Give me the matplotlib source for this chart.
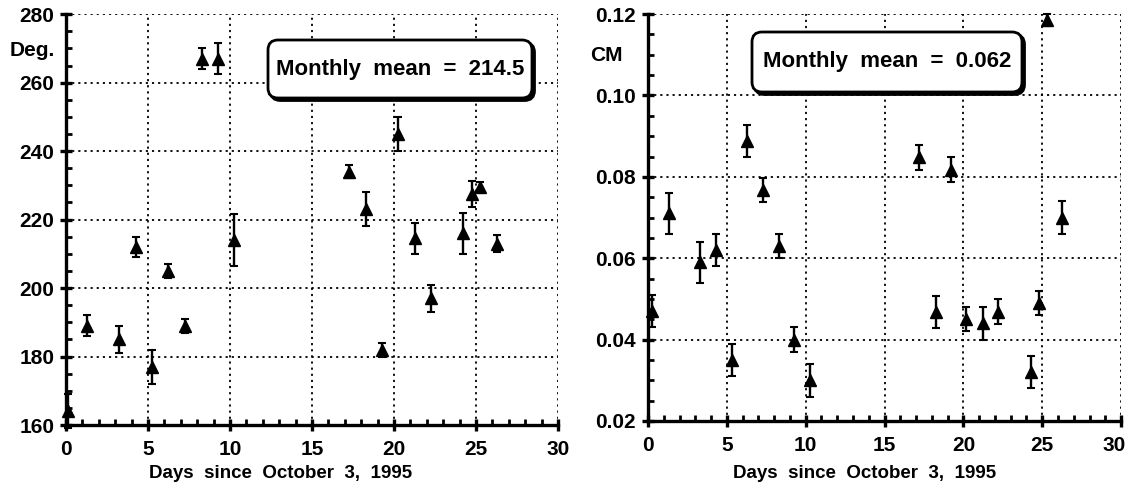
import matplotlib
matplotlib.use("Agg")
import matplotlib.pyplot as plt
from matplotlib.ticker import MultipleLocator, FuncFormatter
from matplotlib.patches import FancyBboxPatch

plt.rcParams["font.family"] = ["Liberation Sans", "DejaVu Sans"]
plt.rcParams["font.weight"] = "bold"

# direction data (degrees)
dir_days = [0.15, 1.26, 3.25, 4.27, 5.22, 6.24, 7.26, 8.27, 9.25, 10.24,
            17.28, 18.27, 19.29, 20.27, 21.28, 22.26, 24.23, 24.77, 25.24, 26.26]
dir_vals = [164, 189, 185, 212, 177, 205, 189, 267, 267, 214,
            234, 223, 182, 245, 214.5, 197, 216, 227.5, 229.5, 213]
dir_err = [5, 3, 4, 3, 5, 2, 2, 3, 4.5, 7.5,
           2, 5, 2, 5, 4.5, 4, 6, 3.7, 1.5, 2.5]

# magnitude data (cm)
mag_days = [0.28, 1.33, 3.32, 4.30, 5.32, 6.27, 7.28, 8.30, 9.25, 10.28,
            17.19, 18.25, 19.24, 20.19, 21.25, 22.22, 24.29, 24.80, 25.29, 26.23]
mag_vals = [0.047, 0.071, 0.059, 0.062, 0.035, 0.0888, 0.0768, 0.063, 0.040, 0.030,
            0.0848, 0.0468, 0.0818, 0.0450, 0.0440, 0.0469, 0.0320, 0.0490, 0.1185, 0.0700]
mag_err = [0.004, 0.005, 0.005, 0.004, 0.004, 0.004, 0.003, 0.003, 0.003, 0.004,
           0.003, 0.004, 0.003, 0.003, 0.004, 0.003, 0.004, 0.003, 0.0015, 0.004]

xlabel = "Days  since  October  3,  1995"
TS = 15

fig = plt.figure(figsize=(11.3, 4.95), dpi=100)
ax1 = fig.add_axes([0.0584, 0.1414, 0.4354, 0.830])
ax2 = fig.add_axes([0.5735, 0.1495, 0.4186, 0.822])


def style(ax, ylim, ymajor, yminor, fmt):
    ax.set_xlim(0, 30)
    ax.set_ylim(*ylim)
    ax.xaxis.set_major_locator(MultipleLocator(5))
    ax.xaxis.set_minor_locator(MultipleLocator(1))
    ax.yaxis.set_major_locator(MultipleLocator(ymajor))
    ax.yaxis.set_minor_locator(MultipleLocator(yminor))
    ax.yaxis.set_major_formatter(fmt)
    ax.grid(True, which="major", color="black", linestyle=(0, (1.2, 2.2)), linewidth=1.3)
    ax.set_axisbelow(True)
    for s in ["top", "right"]:
        ax.spines[s].set_visible(False)
    for s in ["left", "bottom"]:
        ax.spines[s].set_linewidth(2.4)
    ax.tick_params(which="major", direction="inout", length=9, width=2.4,
                   labelsize=TS, pad=4)
    ax.tick_params(axis="x", which="major", pad=6)
    ax.tick_params(which="minor", direction="in", length=4, width=2)


style(ax1, (160, 280), 20, 5, "{x:.0f}")
style(ax2, (0.02, 0.12), 0.02, 0.005, "{x:.2f}")

# right panel: last x label is drawn separately so it stays inside the figure
ax2.xaxis.set_major_formatter(FuncFormatter(lambda v, p: "" if v >= 30 else f"{v:.0f}"))
ax2.annotate("30", xy=(1, 0), xycoords="axes fraction", xytext=(-5, -10.5),
             textcoords="offset points", ha="center", va="top", fontsize=TS,
             fontweight="bold", annotation_clip=False)

for ax, d, v, e in [(ax1, dir_days, dir_vals, dir_err), (ax2, mag_days, mag_vals, mag_err)]:
    ax.errorbar(d, v, yerr=e, fmt="^", color="black", markersize=9,
                elinewidth=1.7, capsize=3, capthick=1.5, zorder=3, clip_on=False)

ax1.set_xlabel(xlabel, fontsize=13.5, fontweight="bold")
ax1.xaxis.set_label_coords(0.437, -0.098)
ax2.set_xlabel(xlabel, fontsize=13.5, fontweight="bold")
ax2.xaxis.set_label_coords(0.457, -0.108)

ax1.text(-0.022, 0.912, "Deg.", transform=ax1.transAxes, ha="right", va="center",
         fontsize=TS, fontweight="bold")
ax2.text(-0.053, 0.899, "CM", transform=ax2.transAxes, ha="right", va="center",
         fontsize=TS, fontweight="bold")

# annotation boxes, placed in inches on the figure
for (x0, y0, w, h) in [(2.68, 3.97, 2.64, 0.58), (7.52, 4.03, 2.70, 0.60)]:
    shadow = FancyBboxPatch((x0 + 0.025, y0 - 0.025), w, h, boxstyle="round,pad=0,rounding_size=0.1",
                            transform=fig.dpi_scale_trans, facecolor="black", edgecolor="black",
                            linewidth=2, zorder=4)
    fig.patches.append(shadow)
    patch = FancyBboxPatch((x0, y0), w, h, boxstyle="round,pad=0,rounding_size=0.1",
                           transform=fig.dpi_scale_trans, facecolor="white", edgecolor="black",
                           linewidth=2, zorder=5)
    fig.patches.append(patch)

fig.text(4.00 / 11.3, 1 - 0.69 / 4.95, "Monthly  mean  =  214.5", ha="center", va="center",
         fontsize=16, fontweight="bold", zorder=6)
fig.text(8.87 / 11.3, 1 - 0.62 / 4.95, "Monthly  mean  =  0.062", ha="center", va="center",
         fontsize=16, fontweight="bold", zorder=6)

fig.savefig("out.png", dpi=100)
